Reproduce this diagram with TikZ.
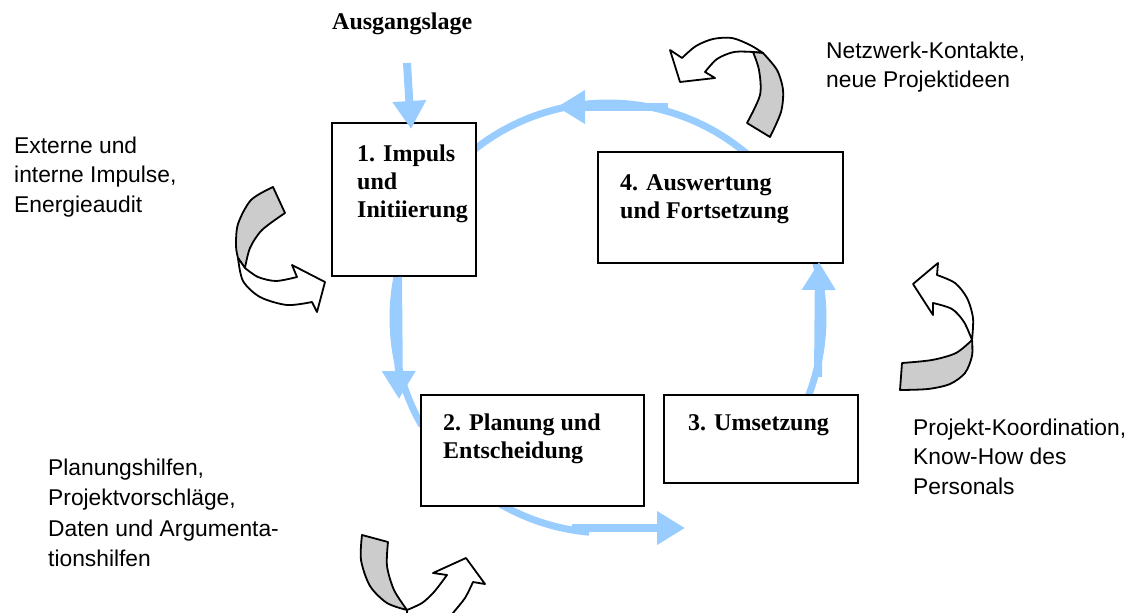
\documentclass[tikz,border=0pt]{standalone}
\usepackage{fontspec}
\setmainfont{Liberation Serif}
\newfontfamily\arialfont{Liberation Sans}
\usetikzlibrary{arrows.meta}
\definecolor{cycleblue}{HTML}{99CCFF}
\definecolor{ribbongray}{HTML}{CCCCCC}
\newcommand\linestack[1]{\begin{tabular}[t]{@{}l@{}}#1\end{tabular}}
\begin{document}
\begin{tikzpicture}[x=1pt,y=1pt,yscale=-1,
  stagebox/.style={draw=black,line width=1.8pt,fill=white,inner sep=0pt,anchor=north west},
  ring/.style={draw=cycleblue,line width=7pt},
  flow/.style={draw=cycleblue,line width=8pt,-{Triangle[width=32pt,length=28pt]}},
  ribbon/.style={draw=black,line width=1.8pt,line join=round},
  sanstext/.style={font=\arialfont\fontsize{22.8}{29.5}\selectfont,inner sep=0pt,anchor=base west},
  boldtext/.style={font=\bfseries\fontsize{24}{28}\selectfont,inner sep=0pt,anchor=base west}]
\useasboundingbox (0,0) rectangle (1141,613);
\clip (0,0) rectangle (1141,613);
\coordinate (cc) at (608,318);
% blue cycle arcs
\draw[ring] (cc) ++(220:215) arc[start angle=220,end angle=315,radius=215];
\draw[ring] (cc) ++(-20:215) arc[start angle=-20,end angle=25,radius=215];
\draw[ring] (cc) ++(125:215) arc[start angle=125,end angle=95,radius=215];
\draw[ring] (cc) ++(195:215) arc[start angle=195,end angle=150,radius=215];
% boxes
\node[stagebox,minimum width=144pt,minimum height=153pt] (b1) at (331,122) {};
\node[stagebox,minimum width=245pt,minimum height=111pt] (b4) at (597,151) {};
\node[stagebox,minimum width=223pt,minimum height=111pt] (b2) at (420,394) {};
\node[stagebox,minimum width=194pt,minimum height=88pt] (b3) at (663,394) {};
% straight blue arrows
\coordinate (ausgstart) at (407,63);
\coordinate (ausgend) at (411,129);
\draw[flow] (ausgstart) -- (ausgend);
\coordinate (topA) at (668,107);
\coordinate (topB) at (557,107);
\draw[flow] (topA) -- (topB);
\coordinate (leftA) at (398,277);
\coordinate (leftB) at (399,399);
\draw[flow] (leftA) -- (leftB);
\coordinate (botA) at (572,528);
\coordinate (botB) at (685,528);
\draw[flow] (botA) -- (botB);
\coordinate (rightA) at (818,377);
\coordinate (rightB) at (819,262);
\draw[flow] (rightA) -- (rightB);
% ribbon arrow 1 (left)
\filldraw[ribbon,fill=ribbongray] plot[smooth] coordinates {(273,187) (251,200) (238,224) (236,246) (238,258)} -- (245,268) -- plot[smooth] coordinates {(245,268) (250,248) (262,230) (285,213)} -- cycle;
\filldraw[ribbon,fill=white] plot[smooth] coordinates {(238,258) (243,281) (260,297) (287,305) (312,302)} -- (317,312) -- (325,282) -- (292,265) -- (297,277) -- plot[smooth] coordinates {(297,277) (276,281) (258,277) (245,268)} -- cycle;
% ribbon arrow 2 (top right)
\filldraw[ribbon,fill=white] (680,82) -- (670,50) -- (682,58) -- plot[smooth] coordinates {(682,58) (696,46) (713,39) (732,38) (750,45) (763,53)} -- (753,52) -- plot[smooth] coordinates {(753,52) (734,52) (717,59) (705,72)} -- (715,78) -- cycle;
\filldraw[ribbon,fill=ribbongray] plot[smooth] coordinates {(753,52) (759,70) (760,95) (747,123)} -- (770,137) -- plot[smooth] coordinates {(770,137) (781,112) (783,90) (777,70) (763,53)} -- cycle;
% ribbon arrow 3 (right)
\filldraw[ribbon,fill=white] (913,284) -- (938,263) -- (937,275) -- plot[smooth] coordinates {(937,275) (955,283) (967,298) (973,318) (972,340)} -- plot[smooth] coordinates {(972,340) (964,322) (952,309) (933,303)} -- (933,315) -- cycle;
\filldraw[ribbon,fill=ribbongray] plot[smooth] coordinates {(972,340) (972,356) (965,373) (950,384) (928,389) (900,390)} -- (902,363) -- plot[smooth] coordinates {(902,363) (932,360) (956,353) (972,340)} -- cycle;
% ribbon arrow 4 (bottom)
\filldraw[ribbon,fill=ribbongray] (362,535) -- (388,542) -- plot[smooth] coordinates {(388,542) (387,566) (394,590) (407,610)} -- plot[smooth] coordinates {(407,610) (387,603) (370,586) (361,560) (362,535)} -- cycle;
\filldraw[ribbon,fill=white] plot[smooth] coordinates {(407,610) (422,603) (434,592) (447,575)} -- (433,573) -- (466,558) -- (485,584) -- (473,582) -- plot[smooth] coordinates {(473,582) (465,598) (453,613) (445,624)} -- (407,640) -- cycle;
% texts
\node[boldtext] (tausg) at (332,29) {Ausgangslage};
\node[boldtext] (l1) at (357,161) {\linestack{1. Impuls\\und\\Initiierung}};
\node[boldtext] (l4) at (620,190) {\linestack{4. Auswertung\\und Fortsetzung}};
\node[boldtext] (l2) at (443,430) {\linestack{2. Planung und\\Entscheidung}};
\node[boldtext] (l3) at (688,430) {3. Umsetzung};
\node[sanstext] (text) at (14,153) {\linestack{Externe und\\interne Impulse,\\Energieaudit}};
\node[sanstext] (tnetz) at (826,58) {\linestack{Netzwerk-Kontakte,\\neue Projektideen}};
\node[sanstext] (tproj) at (913,435) {\linestack{Projekt-Koordination,\\Know-How des\\Personals}};
\node[sanstext,font=\arialfont\fontsize{22.8}{30.5}\selectfont] (tplan) at (48,475) {\linestack{Planungshilfen,\\Projektvorschläge,\\Daten und Argumenta-\\tionshilfen}};
\end{tikzpicture}
\end{document}
